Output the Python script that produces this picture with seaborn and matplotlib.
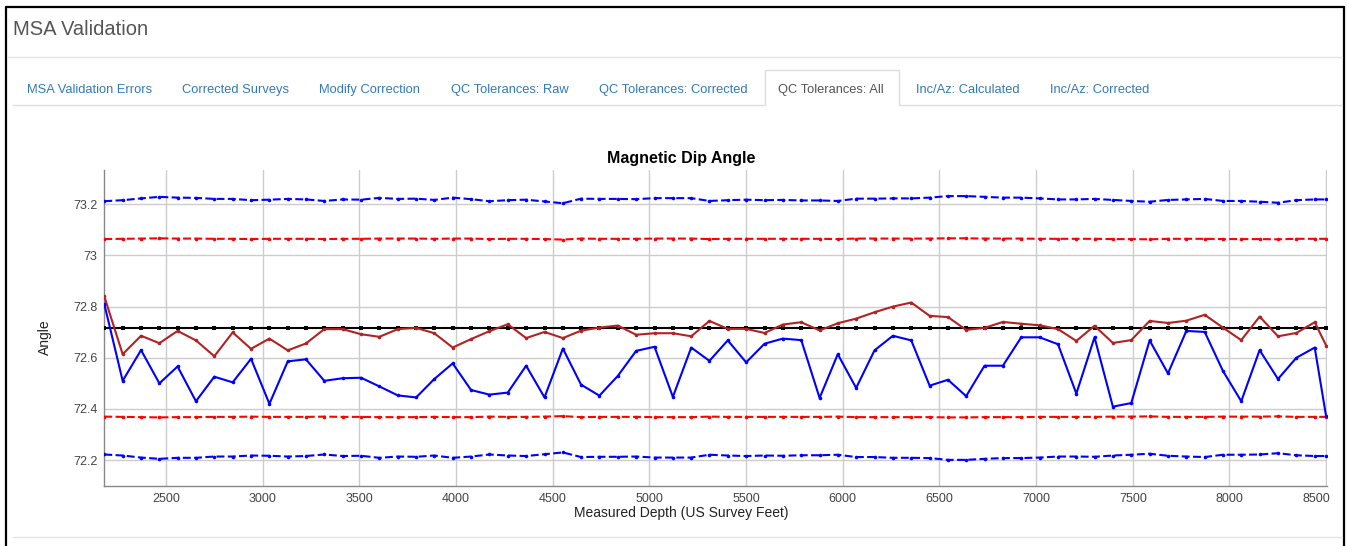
import pandas as pd
import matplotlib
matplotlib.use('Agg')
import matplotlib.pyplot as plt
import matplotlib.transforms as mtransforms
from matplotlib.lines import Line2D
import seaborn as sns

# survey depths (ft)
depth_ft = [2180, 2275, 2370, 2465, 2559, 2654, 2749, 2844, 2939, 3034,
            3129, 3223, 3318, 3413, 3508, 3603, 3698, 3793, 3887, 3982,
            4077, 4172, 4267, 4362, 4457, 4552, 4646, 4741, 4836, 4931,
            5026, 5121, 5216, 5310, 5405, 5500, 5595, 5690, 5785, 5880,
            5974, 6069, 6164, 6259, 6354, 6449, 6544, 6638, 6733, 6828,
            6923, 7018, 7113, 7208, 7302, 7397, 7492, 7587, 7682, 7777,
            7872, 7966, 8061, 8156, 8251, 8346, 8441, 8500]

# raw dip (blue solid)
dip_raw = [72.81, 72.51, 72.63, 72.50, 72.566, 72.43, 72.526, 72.504, 72.596, 72.42,
           72.586, 72.594, 72.51, 72.52, 72.522, 72.488, 72.453, 72.445, 72.517, 72.578,
           72.474, 72.456, 72.464, 72.569, 72.445, 72.636, 72.495, 72.452, 72.529, 72.627,
           72.643, 72.447, 72.640, 72.588, 72.668, 72.582, 72.655, 72.675, 72.669, 72.443,
           72.614, 72.482, 72.629, 72.686, 72.668, 72.491, 72.514, 72.45, 72.569, 72.569,
           72.68, 72.68, 72.653, 72.46, 72.68, 72.409, 72.423, 72.668, 72.539, 72.705,
           72.701, 72.549, 72.43, 72.63, 72.517, 72.6, 72.64, 72.371]

# corrected dip (dark red solid)
dip_corr = [72.84, 72.614, 72.686, 72.657, 72.705, 72.668, 72.606, 72.699, 72.635, 72.675,
            72.629, 72.656, 72.712, 72.712, 72.692, 72.682, 72.712, 72.717, 72.696, 72.64,
            72.673, 72.704, 72.731, 72.677, 72.701, 72.677, 72.706, 72.718, 72.726, 72.69,
            72.696, 72.696, 72.684, 72.744, 72.713, 72.713, 72.697, 72.73, 72.739, 72.707,
            72.735, 72.753, 72.778, 72.8, 72.816, 72.764, 72.759, 72.709, 72.717, 72.74,
            72.733, 72.727, 72.712, 72.666, 72.725, 72.658, 72.669, 72.744, 72.736, 72.745,
            72.768, 72.718, 72.669, 72.761, 72.684, 72.697, 72.739, 72.648]

# reference dip (black)
dip_ref = [72.716] * len(depth_ft)

# raw tolerance band (blue dashed)
raw_upper = [73.212, 73.216, 73.223, 73.229, 73.226, 73.225, 73.221, 73.221, 73.216, 73.218,
             73.221, 73.219, 73.213, 73.219, 73.218, 73.225, 73.221, 73.222, 73.217, 73.226,
             73.22, 73.212, 73.216, 73.218, 73.211, 73.204, 73.222, 73.221, 73.221, 73.22,
             73.224, 73.224, 73.224, 73.213, 73.216, 73.218, 73.216, 73.217, 73.215, 73.215,
             73.213, 73.222, 73.222, 73.223, 73.223, 73.226, 73.232, 73.232, 73.229, 73.226,
             73.226, 73.223, 73.219, 73.219, 73.221, 73.217, 73.213, 73.21, 73.217, 73.219,
             73.221, 73.213, 73.213, 73.21, 73.206, 73.216, 73.219, 73.219]
raw_lower = [72.222, 72.218, 72.21, 72.205, 72.209, 72.209, 72.214, 72.214, 72.218, 72.217,
             72.214, 72.216, 72.222, 72.216, 72.217, 72.209, 72.214, 72.213, 72.218, 72.209,
             72.214, 72.222, 72.218, 72.216, 72.223, 72.23, 72.212, 72.213, 72.213, 72.214,
             72.21, 72.21, 72.21, 72.221, 72.218, 72.216, 72.218, 72.217, 72.219, 72.219,
             72.221, 72.212, 72.212, 72.209, 72.209, 72.208, 72.201, 72.201, 72.205, 72.208,
             72.208, 72.21, 72.214, 72.214, 72.213, 72.218, 72.221, 72.225, 72.217, 72.214,
             72.212, 72.221, 72.221, 72.222, 72.227, 72.219, 72.216, 72.216]

# corrected tolerance band (red dashed)
corr_upper = [73.064, 73.065, 73.066, 73.067, 73.066, 73.066, 73.065, 73.065, 73.064, 73.065,
              73.065, 73.065, 73.064, 73.065, 73.065, 73.066, 73.066, 73.066, 73.065, 73.066,
              73.066, 73.064, 73.065, 73.065, 73.064, 73.062, 73.066, 73.065, 73.065, 73.065,
              73.066, 73.066, 73.066, 73.064, 73.065, 73.065, 73.065, 73.065, 73.065, 73.065,
              73.064, 73.066, 73.066, 73.066, 73.066, 73.066, 73.067, 73.067, 73.066, 73.066,
              73.066, 73.065, 73.065, 73.065, 73.065, 73.064, 73.064, 73.063, 73.065, 73.065,
              73.065, 73.064, 73.064, 73.064, 73.063, 73.065, 73.065, 73.065]
corr_lower = [72.370, 72.369, 72.368, 72.367, 72.368, 72.368, 72.369, 72.369, 72.370, 72.369,
              72.369, 72.369, 72.370, 72.369, 72.369, 72.368, 72.368, 72.368, 72.369, 72.368,
              72.368, 72.370, 72.369, 72.369, 72.370, 72.372, 72.368, 72.369, 72.369, 72.369,
              72.368, 72.368, 72.368, 72.370, 72.369, 72.369, 72.369, 72.369, 72.369, 72.369,
              72.370, 72.368, 72.368, 72.368, 72.368, 72.368, 72.367, 72.367, 72.368, 72.368,
              72.368, 72.369, 72.369, 72.369, 72.369, 72.370, 72.370, 72.371, 72.369, 72.369,
              72.369, 72.370, 72.370, 72.370, 72.371, 72.369, 72.369, 72.369]

x_ticks = [2500, 3000, 3500, 4000, 4500, 5000, 5500, 6000, 6500, 7000, 7500, 8000, 8500]
y_ticks = [72.2, 72.4, 72.6, 72.8, 73.0, 73.2]
y_tick_labels = ['72.2', '72.4', '72.6', '72.8', '73', '73.2']

tabs = ['MSA Validation Errors', 'Corrected Surveys', 'Modify Correction',
        'QC Tolerances: Raw', 'QC Tolerances: Corrected', 'QC Tolerances: All',
        'Inc/Az: Calculated', 'Inc/Az: Corrected']
tab_x = [27, 182, 319, 451, 599, 778, 916, 1050]
active_tab = 'QC Tolerances: All'

sns.set_style('white')
plt.rcParams['font.family'] = ['Liberation Sans', 'DejaVu Sans']

W, H = 1347, 546
fig = plt.figure(figsize=(W / 100, H / 100), dpi=100)
fig.patch.set_facecolor('white')


def fx(x):
    return x / W


def fy(y):
    return 1 - y / H


ax = fig.add_axes([fx(104.3), fy(485.7), (1326.7 - 104.3) / W, (485.7 - 170) / H])

series = [
    (raw_upper, 'blue', True, 'o'),
    (raw_lower, 'blue', True, 'o'),
    (corr_upper, 'red', True, 'o'),
    (corr_lower, 'red', True, 'o'),
    (dip_ref, 'black', False, 's'),
    (dip_corr, '#b22222', False, 'o'),
    (dip_raw, 'blue', False, 'o'),
]
for vals, col, dashed, mk in series:
    d = pd.DataFrame({'depth': depth_ft, 'angle': vals})
    sns.lineplot(data=d, x='depth', y='angle', ax=ax, color=col, lw=1.5,
                 linestyle=(0, (3.8, 1.6)) if dashed else '-',
                 marker=mk, markersize=2.6, markeredgewidth=0, markerfacecolor=col,
                 zorder=3)

ax.set_xlim(2180, 8503)
ax.set_ylim(72.1, 73.334)
ax.set_xticks(x_ticks)
ax.set_yticks(y_ticks)
ax.set_yticklabels(y_tick_labels)
ax.grid(True, color='#cccccc', lw=1)
ax.set_axisbelow(True)
ax.tick_params(length=0, labelsize=9, colors='#444444', pad=5)
ax.set_xlabel('')
ax.set_ylabel('')
for s in ['top', 'right']:
    ax.spines[s].set_visible(False)
for s in ['left', 'bottom']:
    ax.spines[s].set_color('#888888')
    ax.spines[s].set_linewidth(1)

# last tick label is pushed inside the chart area
last = ax.get_xticklabels()[-1]
last.set_transform(last.get_transform() + mtransforms.ScaledTranslation(-0.1, 0, fig.dpi_scale_trans))

fig.text(fx(681), fy(158), 'Magnetic Dip Angle', fontsize=11.5, fontweight='bold',
         ha='center', va='center', color='black')
fig.text(fx(681), fy(513), 'Measured Depth (US Survey Feet)', fontsize=10,
         ha='center', va='center', color='#222222')
fig.text(fx(45), fy(337), 'Angle', fontsize=10, rotation=90,
         ha='center', va='center', color='#222222')

# page chrome around the chart
fig.add_artist(Line2D([fx(6), fx(6)], [fy(7), fy(560)], color='black', lw=1.6))
fig.add_artist(Line2D([fx(6), fx(1344)], [fy(7), fy(7)], color='black', lw=1.6))
fig.add_artist(Line2D([fx(1344), fx(1344)], [fy(7), fy(560)], color='black', lw=1.6))
fig.add_artist(Line2D([fx(8), fx(1342)], [fy(57), fy(57)], color='#e5e5e5', lw=1))
fig.add_artist(Line2D([fx(13), fx(765)], [fy(105), fy(105)], color='#dddddd', lw=1))
fig.add_artist(Line2D([fx(899), fx(1342)], [fy(105), fy(105)], color='#dddddd', lw=1))
fig.add_artist(Line2D([fx(765), fx(765), fx(899), fx(899)], [fy(105), fy(70), fy(70), fy(105)],
                      color='#dddddd', lw=1))
fig.add_artist(Line2D([fx(13), fx(1342)], [fy(537), fy(537)], color='#e5e5e5', lw=1))

fig.text(fx(13), fy(35), 'MSA Validation', fontsize=14.5, color='#555555',
         ha='left', va='baseline')
for name, tx in zip(tabs, tab_x):
    fig.text(fx(tx), fy(92.5), name, fontsize=9.3,
             color='#555555' if name == active_tab else '#337ab7',
             ha='left', va='baseline')

fig.savefig('out.png', dpi=100, facecolor='white')
